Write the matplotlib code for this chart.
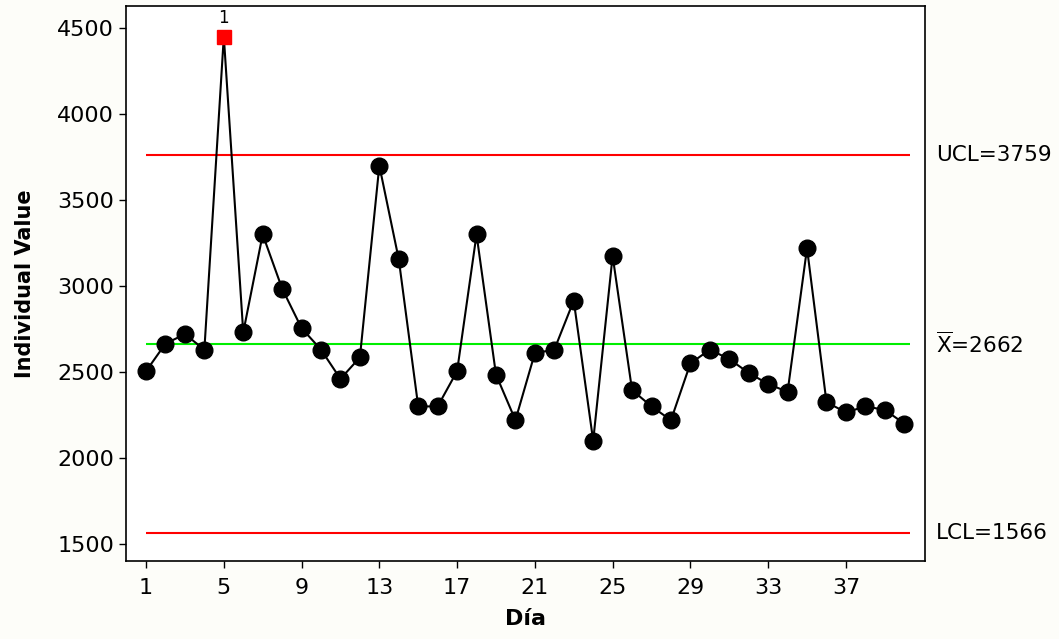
import matplotlib.pyplot as plt
import numpy as np

# I chart data (Minitab style)
dias = np.arange(1, 41)
valores = [2505, 2665, 2720, 2630, 4450, 2730, 3300, 2985, 2755, 2630,
           2460, 2585, 3700, 3155, 2300, 2300, 2505, 3300, 2485, 2220,
           2610, 2630, 2915, 2100, 3175, 2395, 2300, 2220, 2550, 2630,
           2575, 2495, 2430, 2385, 3220, 2325, 2265, 2300, 2280, 2200]
ucl = 3759
media = 2662
lcl = 1566
fuera = [5]  # points flagged by test 1
x_ticks = [1, 5, 9, 13, 17, 21, 25, 29, 33, 37]
y_ticks = [1500, 2000, 2500, 3000, 3500, 4000, 4500]

plt.rcParams['font.family'] = ['DejaVu Sans']

fig = plt.figure(figsize=(10.59, 6.39), dpi=100, facecolor='#fdfdf9')
ax = fig.add_axes([0.119, 0.122, 0.7545, 0.8686])
ax.set_facecolor('white')

ax.hlines([ucl, lcl], 1, 40.3, colors='red', linewidth=1.5, zorder=1)
ax.hlines(media, 1, 40.3, colors='#00ee00', linewidth=1.5, zorder=1)

# circles only on the points in control
normales = [i for i in range(len(dias)) if dias[i] not in fuera]
ax.plot(dias, valores, color='black', linewidth=1.5, marker='o', markersize=12,
        markerfacecolor='black', markevery=normales, zorder=2)

for d in fuera:
    v = valores[d - 1]
    ax.plot(d, v, marker='s', markersize=10, color='red', linestyle='none', zorder=3)
    ax.annotate('1', (d, v), xytext=(0, 7), textcoords='offset points',
                ha='center', va='bottom', fontsize=12)

ax.set_xlim(-0.03, 41.07)
ax.set_ylim(1401, 4628)
ax.set_xticks(x_ticks)
ax.set_yticks(y_ticks)
ax.tick_params(labelsize=16, direction='out', length=5, width=1)
ax.tick_params(axis='x', pad=7)
for s in ax.spines.values():
    s.set_linewidth(1.2)

ax.set_xlabel('Día', fontsize=16, fontweight='bold', labelpad=8)
ax.set_ylabel('Individual Value', fontsize=15, fontweight='bold', labelpad=16)

# control limit labels on the right
lbl = dict(transform=ax.get_yaxis_transform(), va='center', ha='left', fontsize=15.5,
           clip_on=False)
ax.text(1.014, ucl, 'UCL=3759', **lbl)
ax.text(1.014, media, r'$\overline{\mathrm{X}}$=2662', **lbl)
ax.text(1.014, lcl, 'LCL=1566', **lbl)

plt.savefig('out.png', dpi=100, facecolor=fig.get_facecolor())
